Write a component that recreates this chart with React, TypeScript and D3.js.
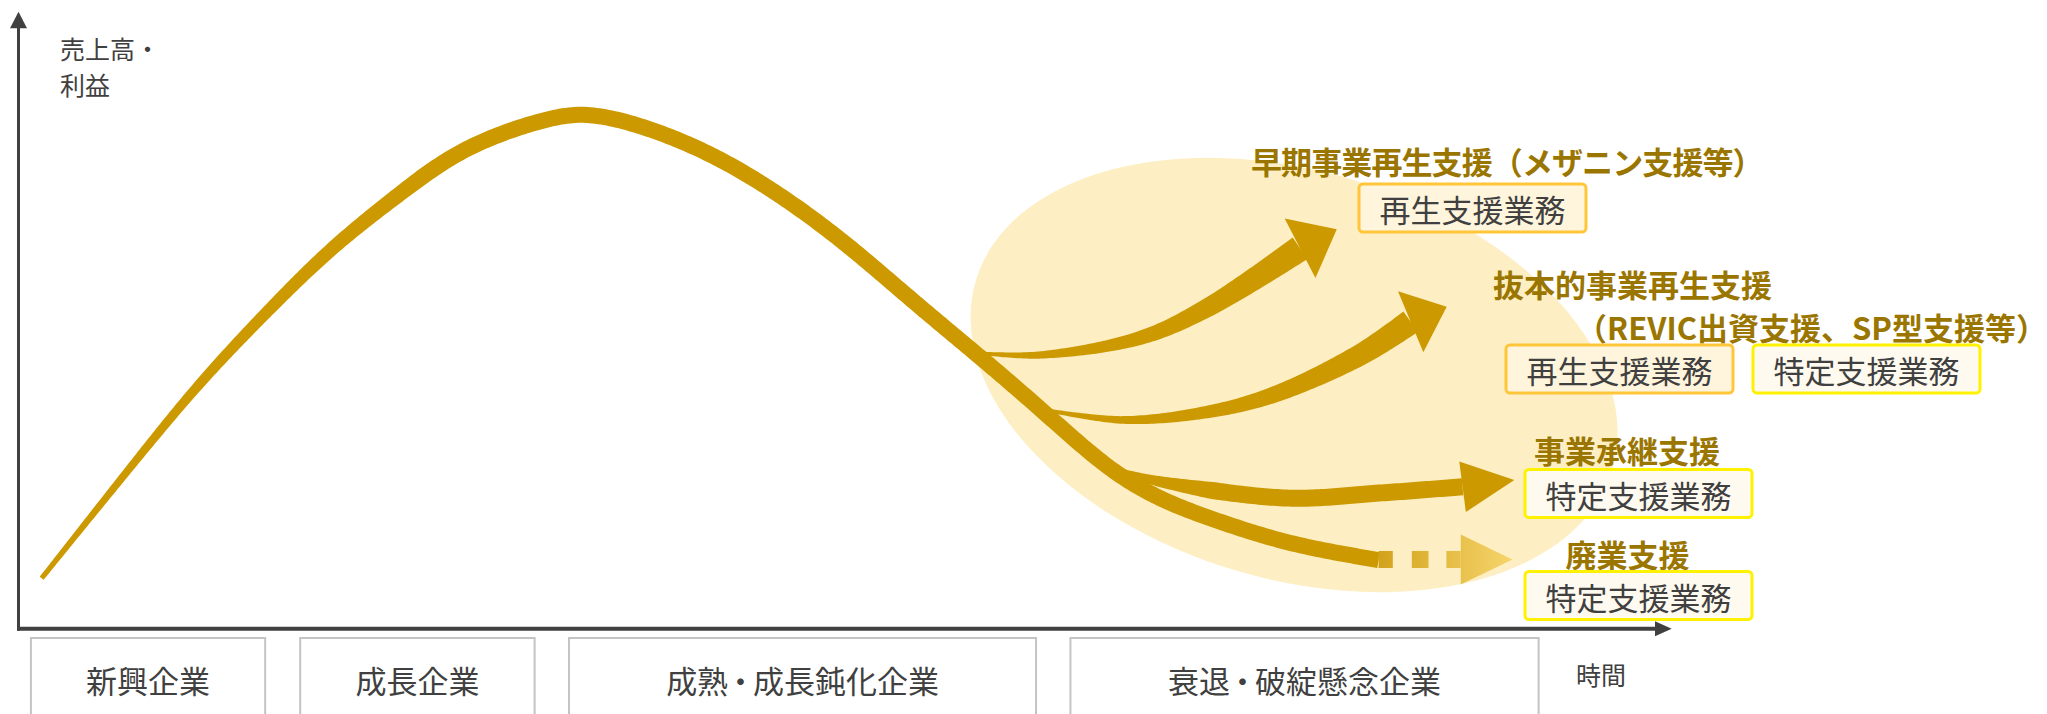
import React, { useEffect, useRef } from 'react';
import * as d3 from 'd3';

// ---------------- data (t = 時間 0–100, v = 売上高・利益 0–100) ----------------
const mainCurve: [number, number][] = [
  [1.4, 8.17], [6.79, 26.26], [10.88, 39.77], [15.11, 51.65], [18.95, 61.91],
  [23.08, 70.57], [26.91, 78.28], [32.15, 82.98], [34.57, 83.69], [38.0, 81.36],
  [42.03, 76.94], [46.06, 70.45], [50.1, 62.46], [54.13, 53.0], [58.16, 44.08],
  [61.91, 35.45], [65.84, 25.88], [69.05, 20.86], [72.31, 17.62], [76.91, 13.57],
  [82.27, 11.13],
];
// branch curves: last point = arrow tip, second last = arrow base
const earlyRevival: [number, number][] = [
  [57.9, 44.7], [61.79, 44.36], [67.84, 47.12], [71.89, 51.98], [77.52, 61.65], [79.74, 64.73],
];
const drasticRevival: [number, number][] = [
  [61.8, 35.6], [66.81, 33.83], [71.89, 35.12], [75.88, 37.88], [81.14, 44.36], [84.21, 49.76], [86.39, 52.19],
];
const succession: [number, number][] = [
  [65.8, 26.2], [68.87, 23.94], [76.67, 21.18], [82.35, 21.99], [87.35, 23.01], [90.48, 24.1],
];
const closureDashStart = [82.27, 84.28, 86.37];
const closureDashEnd = [83.13, 85.29, 87.24];
const closureArrow: [number, number] = [87.24, 90.37];
const closureLevel = 11.22;

const stageNames = ['新興企業', '成長企業', '成熟・成長鈍化企業', '衰退・破綻懸念企業'];
const stageStart = [0.75, 17.04, 33.3, 63.63];
const stageEnd = [14.92, 31.22, 61.55, 91.95];

const highlightCenter: [number, number] = [77.16, 41.12];

const yAxisTitle = ['売上高・', '利益'];
const xAxisTitle = '時間';
const branchTitles: string[][] = [
  ['早期事業再生支援（メザニン支援等）'],
  ['抜本的事業再生支援', '（REVIC出資支援、SP型支援等）'],
  ['事業承継支援'],
  ['廃業支援'],
];
const serviceLabels = ['再生支援業務', '再生支援業務', '特定支援業務', '特定支援業務', '特定支援業務'];
const serviceKinds = ['revival', 'revival', 'specific', 'specific', 'specific'];

// ---------------- layout / style ----------------
const W = 2047;
const H = 714;
const FONT = '"Noto Sans CJK JP", "Noto Sans", sans-serif';
const GOLD = '#cc9900';
const TITLE = '#9a7600';
const TEXT = '#404040';

// per title: x/y of each line, letter-spacing of each line
const titleLines = [
  [{ x: 1251, y: 160, ls: -0.9 }],
  [{ x: 1493, y: 282.5, ls: 0 }, { x: 1576, y: 326, ls: 0 }],
  [{ x: 1534, y: 448.5, ls: 0 }],
  [{ x: 1565.5, y: 553, ls: 0 }],
];
const yLabelLines = [
  { x: 60, y: 47.5 },
  { x: 60, y: 84 },
];
const boxPos = [
  { x: 1359, y: 184 },
  { x: 1506, y: 345 },
  { x: 1753, y: 345 },
  { x: 1525, y: 469.5 },
  { x: 1525, y: 571.5 },
];
const BOX_W = 227;
const BOX_H = 48;
const boxStyle: Record<string, { stroke: string; fill: string }> = {
  revival: { stroke: '#ffc63a', fill: '#fff4dc' },
  specific: { stroke: '#fff200', fill: '#fffaef' },
};

function ribbonPath(
  host: SVGSVGElement,
  pts: [number, number][],
  curve: d3.CurveFactory,
  widthAt: (s: number, L: number) => number
): string {
  const d = d3.line().curve(curve)(pts) as string;
  const p = document.createElementNS('http://www.w3.org/2000/svg', 'path');
  p.setAttribute('d', d);
  host.appendChild(p);
  const L = p.getTotalLength();
  const N = Math.max(60, Math.ceil(L / 3));
  const samples = d3.range(N + 1).map((i) => {
    const s = (L * i) / N;
    const q = p.getPointAtLength(s);
    return [q.x, q.y, s];
  });
  host.removeChild(p);
  const left: [number, number][] = [];
  const right: [number, number][] = [];
  samples.forEach((sm, i) => {
    const a = samples[Math.max(0, i - 1)];
    const b = samples[Math.min(N, i + 1)];
    let dx = b[0] - a[0];
    let dy = b[1] - a[1];
    const len = Math.hypot(dx, dy) || 1;
    dx /= len;
    dy /= len;
    const w = widthAt(sm[2], L) / 2;
    left.push([sm[0] - dy * w, sm[1] + dx * w]);
    right.push([sm[0] + dy * w, sm[1] - dx * w]);
  });
  return (d3.line()([...left, ...right.reverse()]) as string) + 'Z';
}

function arrowHead(base: [number, number], tip: [number, number], half: number): string {
  const dx = tip[0] - base[0];
  const dy = tip[1] - base[1];
  const len = Math.hypot(dx, dy) || 1;
  const nx = -dy / len;
  const ny = dx / len;
  return (
    d3.line()([
      [base[0] + nx * half, base[1] + ny * half],
      tip,
      [base[0] - nx * half, base[1] - ny * half],
    ]) + 'Z'
  );
}

// append text into a <text>, slightly tightening the full-width ・
function fillRich(sel: any, str: string, dotTight: number) {
  const parts = str.split(/(・)/);
  let pending = 0;
  parts.forEach((part) => {
    if (!part) return;
    const ts = sel.append('tspan').text(part);
    if (part === '・') {
      if (dotTight) ts.attr('dx', `${-dotTight}em`);
      pending = -dotTight;
    } else {
      if (pending) ts.attr('dx', `${pending}em`);
      pending = 0;
    }
  });
}

export default function App() {
  const ref = useRef<SVGSVGElement>(null);

  useEffect(() => {
    const svgNode = ref.current!;
    const svg = d3.select(svgNode);
    svg.selectAll('*').remove();

    const x = d3.scaleLinear().domain([0, 100]).range([18.5, 1671.7]);
    const y = d3.scaleLinear().domain([0, 100]).range([628.7, 11.7]);
    const px = (p: [number, number]): [number, number] => [x(p[0]), y(p[1])];

    const defs = svg.append('defs');
    const grad = defs
      .append('linearGradient')
      .attr('id', 'fade')
      .attr('gradientUnits', 'userSpaceOnUse')
      .attr('x1', x(closureDashStart[0]))
      .attr('x2', x(closureArrow[1]))
      .attr('y1', 0)
      .attr('y2', 0);
    grad.append('stop').attr('offset', 0).attr('stop-color', '#d3a21c');
    grad.append('stop').attr('offset', 1).attr('stop-color', '#f6d56c');

    // highlight ellipse
    const [ecx, ecy] = px(highlightCenter);
    svg
      .append('ellipse')
      .attr('cx', ecx)
      .attr('cy', ecy)
      .attr('rx', 332)
      .attr('ry', 204)
      .attr('transform', `rotate(16.5,${ecx},${ecy})`)
      .attr('fill', '#fdefc3');

    // axes
    const ax = svg.append('g').attr('fill', TEXT).attr('stroke', TEXT);
    ax.append('line')
      .attr('x1', x(0)).attr('x2', x(0))
      .attr('y1', y(0) + 2).attr('y2', y(100) + 16)
      .attr('stroke-width', 3);
    ax.append('path')
      .attr('stroke', 'none')
      .attr('d', arrowHead([x(0), y(100) + 16.5], [x(0), y(100)], 8.5));
    ax.append('line')
      .attr('x1', x(0) - 1.5).attr('x2', x(100) - 16)
      .attr('y1', y(0)).attr('y2', y(0))
      .attr('stroke-width', 4);
    ax.append('path')
      .attr('stroke', 'none')
      .attr('d', arrowHead([x(100) - 16.7, y(0)], [x(100), y(0)], 7.5));

    // axis labels
    const lab = svg.append('g').attr('font-family', FONT).attr('fill', TEXT).attr('font-size', 25);
    const yl = lab.append('text').attr('dominant-baseline', 'central');
    yAxisTitle.forEach((line, i) => {
      yl.append('tspan').attr('x', yLabelLines[i].x).attr('y', yLabelLines[i].y).text(line);
    });
    lab.append('text').attr('x', 1576).attr('y', 674).attr('dominant-baseline', 'central').text(xAxisTitle);

    // main curve (tapered)
    const curves = svg.append('g').attr('fill', GOLD);
    curves
      .append('path')
      .attr('d', ribbonPath(svgNode, mainCurve.map(px), d3.curveBasis, (s) => 5 + 11 * Math.min(1, s / 560)));

    const branch = (
      data: [number, number][],
      w0: number,
      w1: number,
      ramp: number,
      half: number
    ) => {
      const pts = data.map(px);
      const shaft = pts.slice(0, -1);
      curves
        .append('path')
        .attr(
          'd',
          ribbonPath(svgNode, shaft, d3.curveCatmullRom.alpha(0.5), (s, L) => w0 + (w1 - w0) * Math.min(1, s / (ramp * L)))
        );
      curves.append('path').attr('d', arrowHead(pts[pts.length - 2], pts[pts.length - 1], half));
    };
    branch(earlyRevival, 3, 26, 1, 33.5);
    branch(drasticRevival, 3, 25, 1, 33);
    branch(succession, 4, 17, 0.3, 25.5);

    // closure: dashed fading tail
    const dashG = svg.append('g').attr('fill', 'url(#fade)');
    const cy = y(closureLevel);
    closureDashStart.forEach((t0, i) => {
      dashG
        .append('rect')
        .attr('x', x(t0))
        .attr('y', cy - 8.5)
        .attr('width', x(closureDashEnd[i]) - x(t0))
        .attr('height', 17);
    });
    dashG.append('path').attr('d', arrowHead([x(closureArrow[0]), cy], [x(closureArrow[1]), cy], 25));

    // titles
    const tg = svg
      .append('g')
      .attr('font-family', FONT)
      .attr('font-weight', 700)
      .attr('font-size', 31)
      .attr('fill', TITLE);
    branchTitles.forEach((lines, i) => {
      const t = tg.append('text').attr('dominant-baseline', 'central');
      lines.forEach((line, j) => {
        const pos = titleLines[i][j];
        t.append('tspan')
          .attr('x', pos.x)
          .attr('y', pos.y)
          .attr('letter-spacing', pos.ls)
          .text(line);
      });
    });

    // service boxes
    const bg = svg.append('g').attr('font-family', FONT).attr('font-size', 31);
    serviceLabels.forEach((t, i) => {
      const st = boxStyle[serviceKinds[i]];
      const b = boxPos[i];
      bg.append('rect')
        .attr('x', b.x)
        .attr('y', b.y)
        .attr('width', BOX_W)
        .attr('height', BOX_H)
        .attr('rx', 4)
        .attr('fill', st.fill)
        .attr('stroke', st.stroke)
        .attr('stroke-width', 3);
      bg.append('text')
        .attr('x', b.x + BOX_W / 2)
        .attr('y', b.y + BOX_H / 2 + 0.5)
        .attr('text-anchor', 'middle')
        .attr('dominant-baseline', 'central')
        .attr('fill', TEXT)
        .text(t);
    });

    // stage boxes
    const sg = svg.append('g').attr('font-family', FONT).attr('font-size', 31);
    stageNames.forEach((name, i) => {
      const x0 = x(stageStart[i]);
      const x1 = x(stageEnd[i]);
      sg.append('rect')
        .attr('x', x0)
        .attr('y', 638)
        .attr('width', x1 - x0)
        .attr('height', 100)
        .attr('fill', '#ffffff')
        .attr('stroke', '#c4c4c4')
        .attr('stroke-width', 2);
      const tx = sg
        .append('text')
        .attr('x', (x0 + x1) / 2)
        .attr('y', 679)
        .attr('text-anchor', 'middle')
        .attr('dominant-baseline', 'central')
        .attr('fill', TEXT);
      fillRich(tx, name, 0.1);
    });
  }, []);

  return (
    <div style={{ position: 'absolute', left: 0, top: 0, width: W, height: H, overflow: 'hidden', background: '#fff' }}>
      <svg ref={ref} width={W} height={H} style={{ display: 'block' }} />
    </div>
  );
}
